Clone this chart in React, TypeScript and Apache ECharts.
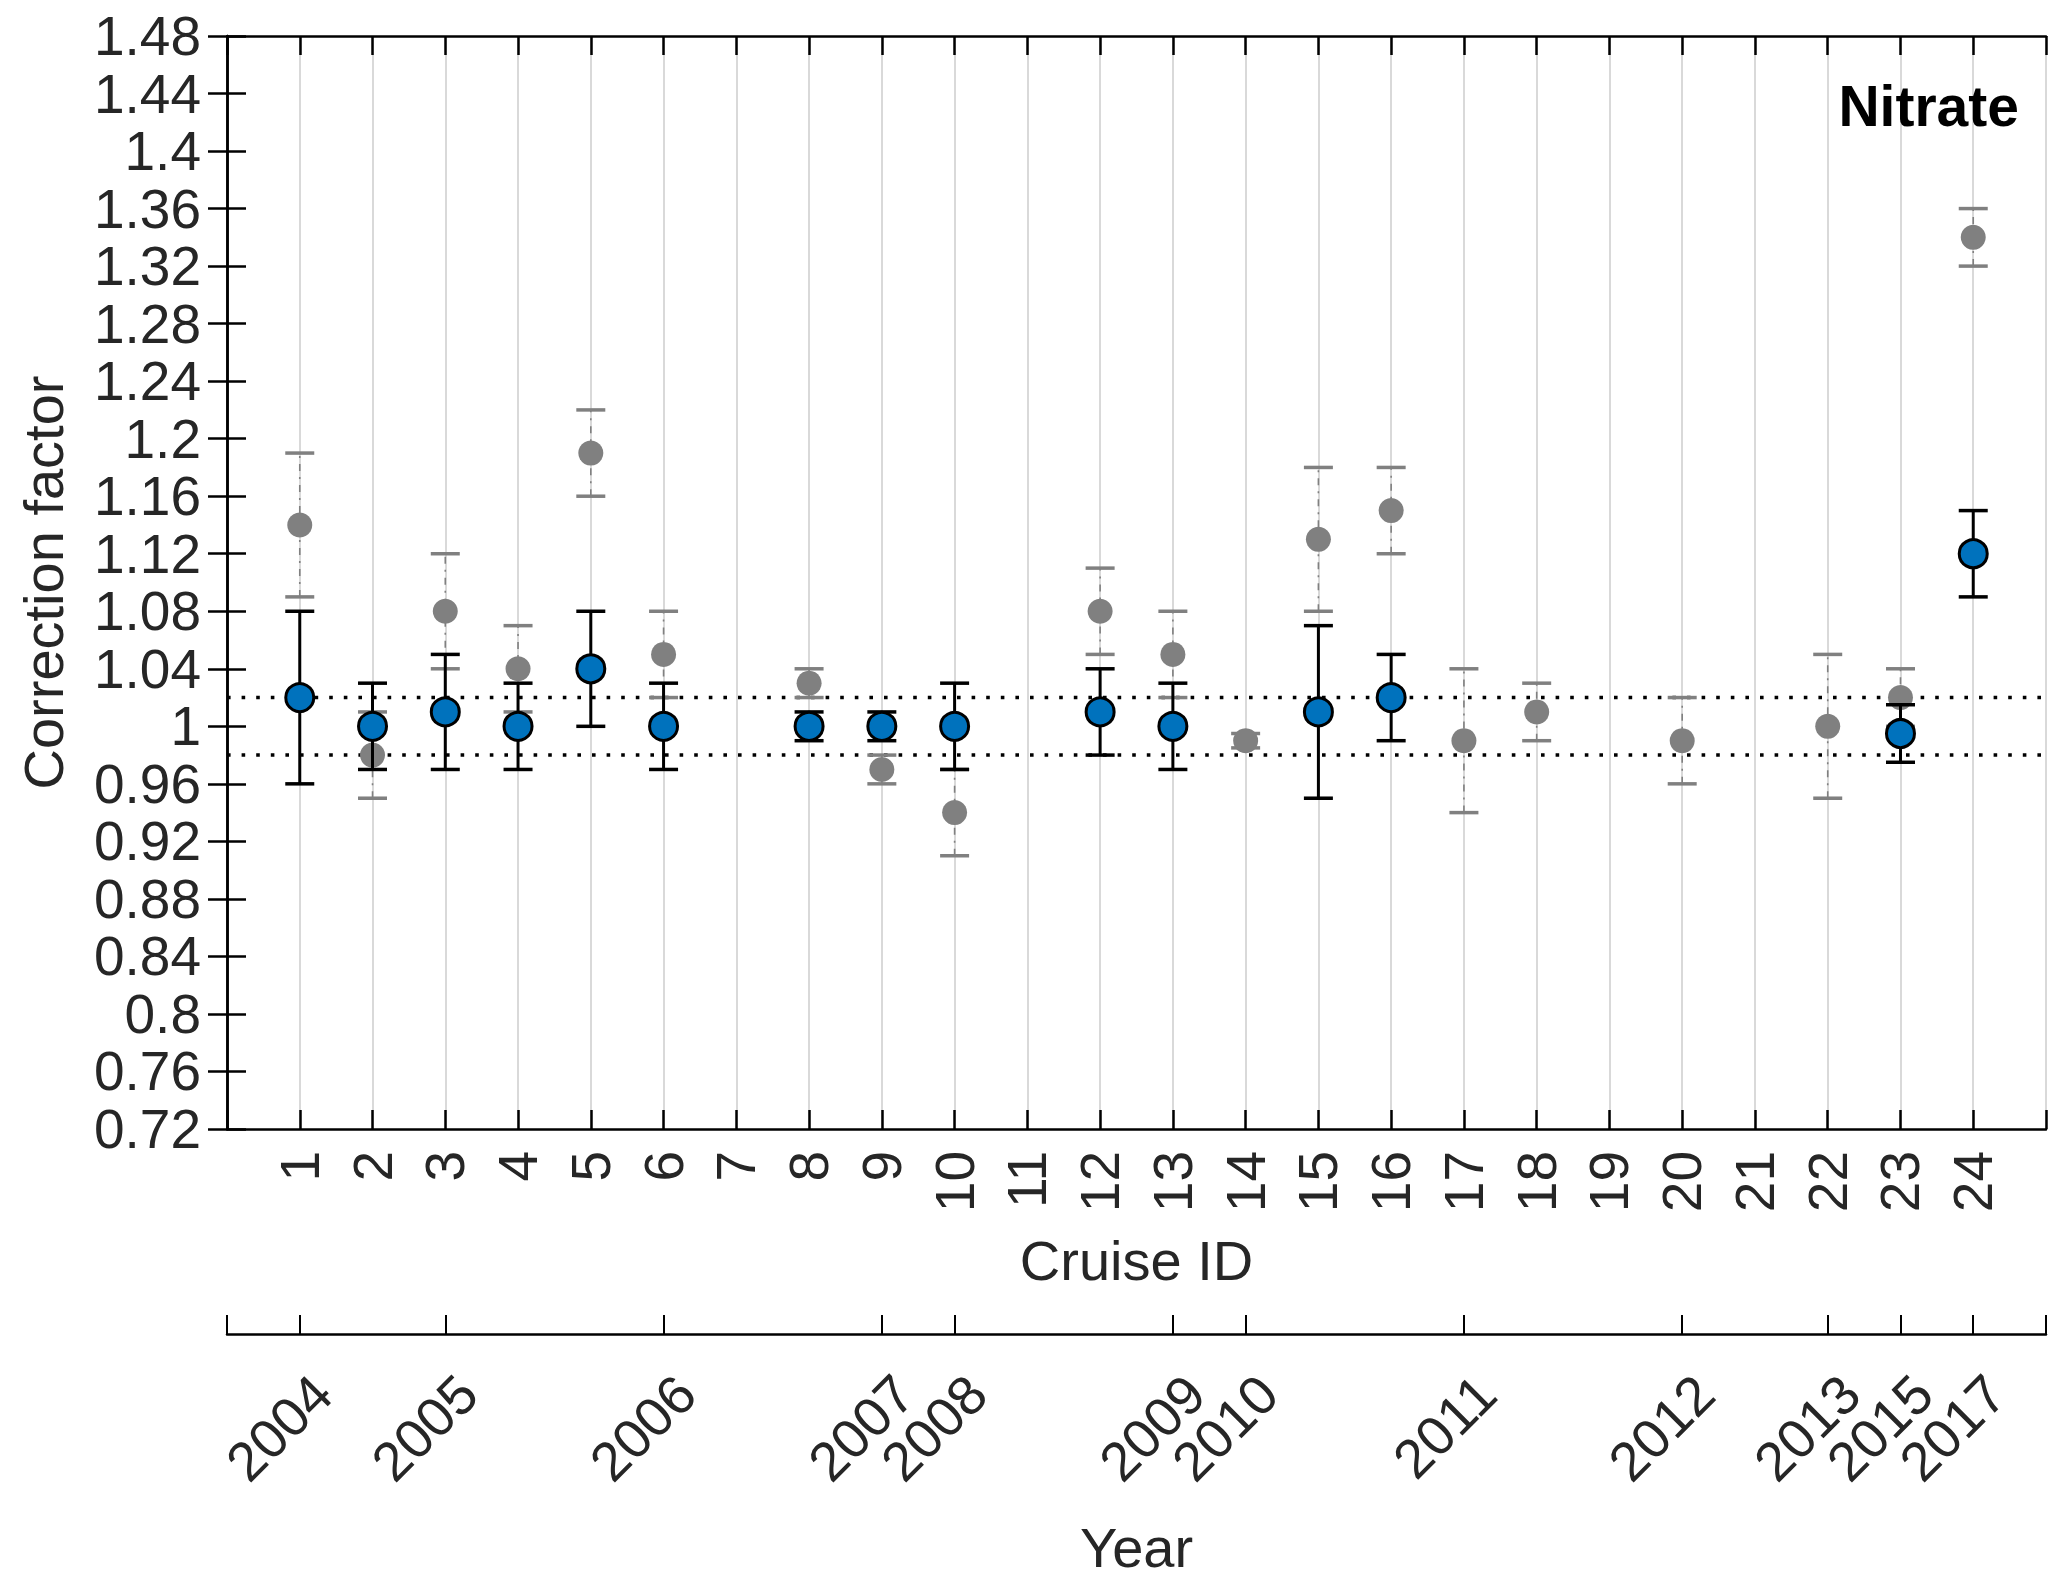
import React, { useEffect, useRef } from "react";
import * as echarts from "echarts";

const cruiseIds = [1, 2, 3, 4, 5, 6, 7, 8, 9, 10, 11, 12, 13, 14, 15, 16, 17, 18, 19, 20, 21, 22, 23, 24];

const blueCruise = [1, 2, 3, 4, 5, 6, 8, 9, 10, 12, 13, 15, 16, 23, 24];
const blueValue = [1.02, 1.0, 1.01, 1.0, 1.04, 1.0, 1.0, 1.0, 1.0, 1.01, 1.0, 1.01, 1.02, 0.995, 1.12];
const blueLow = [0.96, 0.97, 0.97, 0.97, 1.0, 0.97, 0.99, 0.99, 0.97, 0.98, 0.97, 0.95, 0.99, 0.975, 1.09];
const blueHigh = [1.08, 1.03, 1.05, 1.03, 1.08, 1.03, 1.01, 1.01, 1.03, 1.04, 1.03, 1.07, 1.05, 1.015, 1.15];

const grayCruise = [1, 2, 3, 4, 5, 6, 8, 9, 10, 12, 13, 14, 15, 16, 17, 18, 20, 22, 23, 24];
const grayValue = [1.14, 0.98, 1.08, 1.04, 1.19, 1.05, 1.03, 0.97, 0.94, 1.08, 1.05, 0.99, 1.13, 1.15, 0.99, 1.01, 0.99, 1.0, 1.02, 1.34];
const grayLow = [1.09, 0.95, 1.04, 1.01, 1.16, 1.02, 1.02, 0.96, 0.91, 1.05, 1.02, 0.985, 1.08, 1.12, 0.94, 0.99, 0.96, 0.95, 1.0, 1.32];
const grayHigh = [1.19, 1.01, 1.12, 1.07, 1.22, 1.08, 1.04, 0.98, 0.97, 1.11, 1.08, 0.995, 1.18, 1.18, 1.04, 1.03, 1.02, 1.05, 1.04, 1.36];

const yearTickCruise = [1, 3, 6, 9, 10, 13, 14, 17, 20, 22, 23, 24];
const yearLabels = ["2004", "2005", "2006", "2007", "2008", "2009", "2010", "2011", "2012", "2013", "2015", "2017"];

const limitLines = [1.02, 0.98];
const yMin = 0.72;
const yMax = 1.48;
const yStep = 0.04;
const xMin = 0;
const xMax = 25;

const FONT = "'Liberation Sans', Arial, Helvetica, sans-serif";
const TXT = "#262626";
const BLUE = "#0072BD";
const GRAY = "#808080";

function errorBarRenderer(color: string, lineWidth: number, capWidth: number, dash: number[] | null) {
  return (params: any, api: any) => {
    const x = api.value(0);
    const lo = api.value(1);
    const hi = api.value(2);
    const pLo = api.coord([x, lo]);
    const pHi = api.coord([x, hi]);
    const hw = 14.5;
    return {
      type: "group",
      children: [
        {
          type: "line",
          shape: { x1: pLo[0], y1: pLo[1], x2: pHi[0], y2: pHi[1] },
          style: { stroke: color, lineWidth, lineDash: dash || undefined },
        },
        {
          type: "line",
          shape: { x1: pLo[0] - hw, y1: pLo[1], x2: pLo[0] + hw, y2: pLo[1] },
          style: { stroke: color, lineWidth: capWidth },
        },
        {
          type: "line",
          shape: { x1: pHi[0] - hw, y1: pHi[1], x2: pHi[0] + hw, y2: pHi[1] },
          style: { stroke: color, lineWidth: capWidth },
        },
      ],
    };
  };
}

export default function App() {
  const ref = useRef<HTMLDivElement>(null);

  useEffect(() => {
    document.body.style.margin = "0";
    if (!ref.current) return;
    const chart = echarts.init(ref.current, undefined, { renderer: "svg" });

    const yearCats = Array.from({ length: xMax - xMin + 1 }, (_, i) => String(xMin + i));
    const lastIdx = yearCats.length - 1;

    const axisLineStyle = { color: "#000", width: 2.5 };
    const tickStyle = { color: "#000", width: 2.5 };

    const option: any = {
      animation: false,
      backgroundColor: "#fff",
      textStyle: { fontFamily: FONT },
      grid: { left: 227, right: 21, top: 36, bottom: 457, containLabel: false },
      xAxis: [
        {
          type: "value",
          min: xMin,
          max: xMax,
          interval: 1,
          position: "bottom",
          name: "Cruise ID",
          nameLocation: "middle",
          nameGap: 103,
          nameTextStyle: { fontSize: 56, color: TXT, fontFamily: FONT },
          axisLine: { show: true, lineStyle: axisLineStyle },
          axisTick: { show: true, inside: true, length: 19, lineStyle: tickStyle },
          axisLabel: {
            rotate: 90,
            margin: 22,
            fontSize: 55,
            color: TXT,
            fontFamily: FONT,
            formatter: (v: number) => (cruiseIds.indexOf(v) >= 0 ? String(v) : ""),
          },
          splitLine: { show: true, lineStyle: { color: "#d9d9d9", width: 2 } },
        },
        {
          type: "value",
          min: xMin,
          max: xMax,
          interval: 1,
          position: "top",
          axisLine: { show: true, lineStyle: axisLineStyle },
          axisTick: { show: true, inside: true, length: 19, lineStyle: tickStyle },
          axisLabel: { show: false },
          splitLine: { show: false },
        },
        {
          type: "category",
          data: yearCats,
          boundaryGap: false,
          position: "bottom",
          offset: 205,
          name: "Year",
          nameLocation: "middle",
          nameGap: 185,
          nameTextStyle: { fontSize: 56, color: TXT, fontFamily: FONT },
          axisLine: { show: true, lineStyle: axisLineStyle },
          axisTick: {
            show: true,
            inside: true,
            length: 19,
            lineStyle: { color: "#000", width: 2 },
            interval: (idx: number) => idx === 0 || idx === lastIdx || yearTickCruise.indexOf(idx) >= 0,
          },
          axisLabel: {
            rotate: 45,
            margin: 28,
            fontSize: 55,
            lineHeight: 64,
            color: TXT,
            fontFamily: FONT,
            align: "right",
            verticalAlign: "top",
            hideOverlap: false,
            interval: (idx: number) => idx === 0 || idx === lastIdx || yearTickCruise.indexOf(idx) >= 0,
            formatter: (v: string) => {
              const k = yearTickCruise.indexOf(Number(v));
              return k >= 0 ? yearLabels[k] : "";
            },
          },
          splitLine: { show: false },
        },
      ],
      yAxis: [
        {
          type: "value",
          min: yMin,
          max: yMax,
          interval: yStep,
          position: "left",
          name: "Correction factor",
          nameLocation: "middle",
          nameGap: 156,
          nameTextStyle: { fontSize: 56, color: TXT, fontFamily: FONT },
          axisLine: { show: true, lineStyle: axisLineStyle },
          axisTick: { show: true, inside: true, length: 19, lineStyle: tickStyle },
          axisLabel: {
            margin: 26,
            fontSize: 55,
            color: TXT,
            fontFamily: FONT,
            formatter: (v: number) => String(parseFloat(v.toFixed(2))),
          },
          splitLine: { show: false },
        },
        {
          type: "value",
          min: yMin,
          max: yMax,
          interval: yStep,
          position: "right",
          axisLine: { show: true, lineStyle: axisLineStyle },
          axisTick: { show: true, inside: true, length: 19, lineStyle: tickStyle },
          axisLabel: { show: false },
          splitLine: { show: false },
        },
      ],
      graphic: [
        {
          type: "text",
          right: 48,
          top: 77,
          z: 100,
          style: {
            text: "Nitrate",
            fontSize: 57,
            fontWeight: "bold",
            fontFamily: FONT,
            fill: "#000",
          },
        },
      ],
      series: [
        ...limitLines.map((v) => ({
          type: "line",
          xAxisIndex: 0,
          yAxisIndex: 0,
          data: [
            [xMin, v],
            [xMax, v],
          ],
          symbol: "none",
          silent: true,
          z: 2,
          lineStyle: { color: "#000", width: 3.5, type: [3.6, 11] },
        })),
        {
          type: "custom",
          xAxisIndex: 0,
          yAxisIndex: 0,
          z: 3,
          silent: true,
          encode: { x: 0, y: [1, 2] },
          data: grayCruise.map((c, i) => [c, grayLow[i], grayHigh[i]]),
          renderItem: errorBarRenderer(GRAY, 1.6, 3.5, [7, 6, 2, 6]),
        },
        {
          type: "scatter",
          xAxisIndex: 0,
          yAxisIndex: 0,
          z: 4,
          symbol: "circle",
          symbolSize: 25,
          itemStyle: { color: GRAY, opacity: 1 },
          data: grayCruise.map((c, i) => [c, grayValue[i]]),
        },
        {
          type: "custom",
          xAxisIndex: 0,
          yAxisIndex: 0,
          z: 5,
          silent: true,
          encode: { x: 0, y: [1, 2] },
          data: blueCruise.map((c, i) => [c, blueLow[i], blueHigh[i]]),
          renderItem: errorBarRenderer("#000", 3, 3.5, null),
        },
        {
          type: "scatter",
          xAxisIndex: 0,
          yAxisIndex: 0,
          z: 6,
          symbol: "circle",
          symbolSize: 28,
          itemStyle: { color: BLUE, borderColor: "#000", borderWidth: 3, opacity: 1 },
          data: blueCruise.map((c, i) => [c, blueValue[i]]),
        },
      ],
    };

    chart.setOption(option);
    return () => {
      chart.dispose();
    };
  }, []);

  return <div ref={ref} style={{ width: 2067, height: 1586, background: "#fff" }} />;
}
